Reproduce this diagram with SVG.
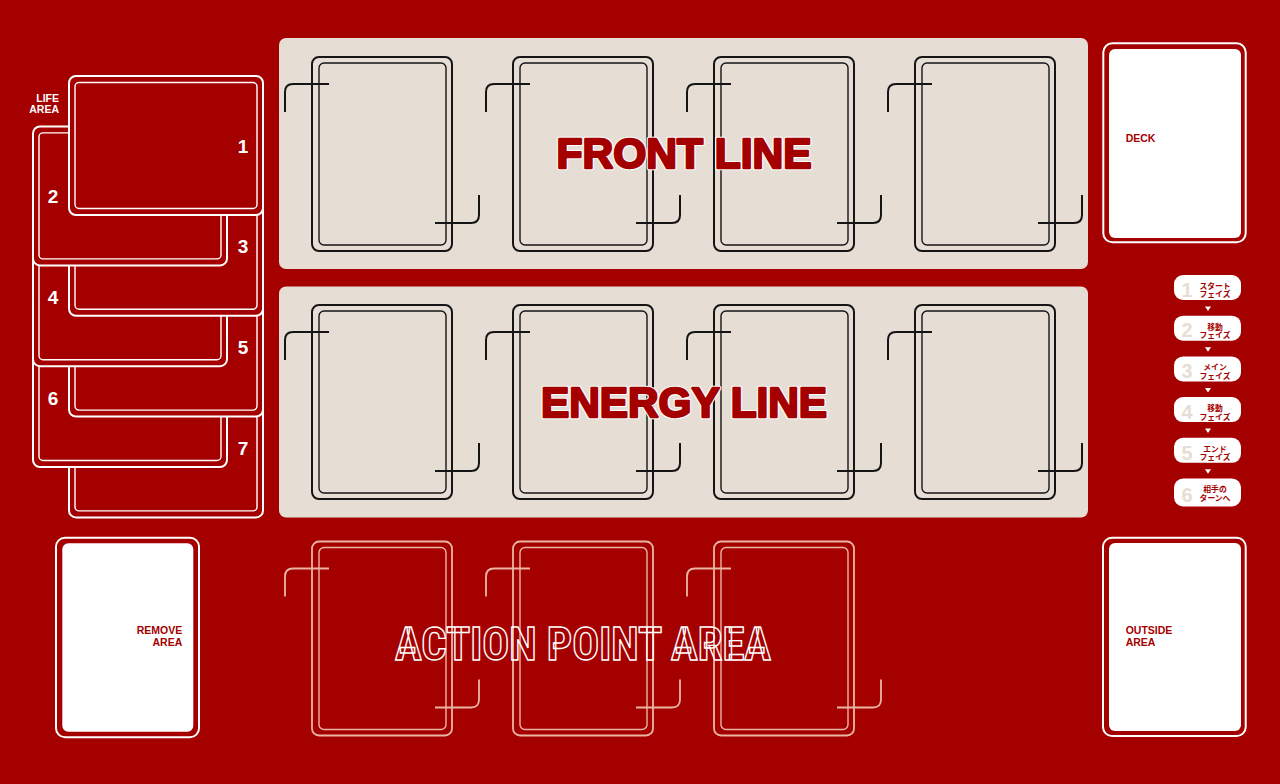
<svg xmlns="http://www.w3.org/2000/svg" xmlns:xlink="http://www.w3.org/1999/xlink" width="1280" height="784" viewBox="0 0 1280 784">
<style>
.bg{fill:#a50000}
.panel{fill:#e6ddd5}
.slot-dark{fill:none;stroke:#151515;stroke-width:2}
.slot-light{fill:none;stroke:#e9b6a4;stroke-width:1.8}
.lnum{font-family:"Liberation Sans",Arial,sans-serif;font-weight:bold;font-size:19px;fill:#fff;text-anchor:middle}
.lbl{font-family:"Liberation Sans",Arial,sans-serif;font-weight:bold;font-size:10.5px;fill:#a50000}
.wlbl{font-family:"Liberation Sans",Arial,sans-serif;font-weight:bold;font-size:10.5px;fill:#fff;text-anchor:end}
.zone-o{fill:none;stroke:#fff;stroke-width:2}
.zone-i{fill:#fff}
.big-out{font-family:"Liberation Sans",Arial,sans-serif;font-weight:bold;fill:#fff;stroke:#fff;stroke-width:4.6;stroke-linejoin:round;text-anchor:middle}
.big{font-family:"Liberation Sans",Arial,sans-serif;font-weight:bold;fill:#a50000;stroke:#a50000;stroke-width:2.4;stroke-linejoin:round;text-anchor:middle}
.pill{fill:#fff}
.pnum{font-family:"Liberation Sans",Arial,sans-serif;font-weight:bold;font-size:20px;fill:#e6ddd5;text-anchor:middle}
.pjp{font-family:"Noto Sans CJK JP",sans-serif;font-weight:bold;font-size:7.8px;fill:#a50000;text-anchor:middle}
.arr{fill:#fff}
</style>
<defs>
<g id="slot">
<rect x="0" y="0" width="140" height="194" rx="7"/>
<rect x="7" y="6" width="127" height="182" rx="5" stroke-width="1.4"/>
<path d="M-27,55 V35 Q-27,27 -19,27 H17"/>
<path d="M167,138 V158 Q167,166 159,166 H123"/>
</g>
<g id="lifecard" fill="#a50000" stroke="#fff">
<rect x="0" y="0" width="194" height="139" rx="7" stroke-width="2"/>
<rect x="6" y="6.5" width="182" height="126" rx="4" stroke-width="1.4"/>
</g>
</defs>
<rect class="bg" x="0" y="0" width="1280" height="784"/>

<g id="front-line">
<rect class="panel" x="279" y="38" width="809" height="231" rx="7"/>
<g class="slot-dark">
<use xlink:href="#slot" x="312" y="57"/>
<use xlink:href="#slot" x="513" y="57"/>
<use xlink:href="#slot" x="714" y="57"/>
<use xlink:href="#slot" x="915" y="57"/>
</g>
<text class="big-out" x="684" y="168.3" font-size="42" textLength="255" lengthAdjust="spacingAndGlyphs">FRONT LINE</text>
<text class="big" x="684" y="168.3" font-size="42" textLength="255" lengthAdjust="spacingAndGlyphs">FRONT LINE</text>
</g>

<g id="energy-line">
<rect class="panel" x="279" y="286.5" width="809" height="231" rx="7"/>
<g class="slot-dark">
<use xlink:href="#slot" x="312" y="305"/>
<use xlink:href="#slot" x="513" y="305"/>
<use xlink:href="#slot" x="714" y="305"/>
<use xlink:href="#slot" x="915" y="305"/>
</g>
<text class="big-out" x="684" y="416.7" font-size="42" textLength="286" lengthAdjust="spacingAndGlyphs">ENERGY LINE</text>
<text class="big" x="684" y="416.7" font-size="42" textLength="286" lengthAdjust="spacingAndGlyphs">ENERGY LINE</text>
</g>

<g id="action-point-area">
<g class="slot-light">
<use xlink:href="#slot" x="312" y="541.5"/>
<use xlink:href="#slot" x="513" y="541.5"/>
<use xlink:href="#slot" x="714" y="541.5"/>
</g>
<text x="583" y="660" font-family="'Liberation Sans Narrow','Roboto Condensed','Liberation Sans',sans-serif" font-weight="bold" font-size="46" fill="none" stroke="#fff" stroke-width="1.4" text-anchor="middle" textLength="376" lengthAdjust="spacingAndGlyphs">ACTION POINT AREA</text>
</g>

<g id="life-area">
<use xlink:href="#lifecard" x="69" y="378.4"/>
<text class="lnum" x="243" y="454.9">7</text>
<use xlink:href="#lifecard" x="33" y="328"/>
<text class="lnum" x="53" y="404.5">6</text>
<use xlink:href="#lifecard" x="69" y="277.6"/>
<text class="lnum" x="243" y="354.1">5</text>
<use xlink:href="#lifecard" x="33" y="227.2"/>
<text class="lnum" x="53" y="303.7">4</text>
<use xlink:href="#lifecard" x="69" y="176.8"/>
<text class="lnum" x="243" y="253.3">3</text>
<use xlink:href="#lifecard" x="33" y="126.4"/>
<text class="lnum" x="53" y="202.9">2</text>
<use xlink:href="#lifecard" x="69" y="76"/>
<text class="lnum" x="243" y="152.5">1</text>
<text class="wlbl" x="59" y="101.5">LIFE</text>
<text class="wlbl" x="59" y="113">AREA</text>
</g>

<g id="deck">
<rect class="zone-o" x="1103.3" y="43.3" width="142.4" height="199" rx="9"/>
<rect class="zone-i" x="1109" y="49" width="132" height="189" rx="6"/>
<text class="lbl" x="1125.7" y="142.3">DECK</text>
</g>

<g id="remove-area">
<rect class="zone-o" x="56" y="537.7" width="143" height="199.6" rx="9"/>
<rect class="zone-i" x="62.3" y="543.3" width="131" height="188.4" rx="6"/>
<text class="lbl" x="182.3" y="634.3" text-anchor="end">REMOVE</text>
<text class="lbl" x="182.3" y="646" text-anchor="end">AREA</text>
</g>

<g id="outside-area">
<rect class="zone-o" x="1103" y="537.7" width="142.7" height="198.3" rx="9"/>
<rect class="zone-i" x="1109" y="543" width="132" height="188" rx="6"/>
<text class="lbl" x="1125.7" y="634.3">OUTSIDE</text>
<text class="lbl" x="1125.7" y="646">AREA</text>
</g>

<g id="phase-1">
<rect class="pill" x="1174" y="275" width="67" height="25" rx="9"/>
<text class="pnum" x="1187" y="296.7">1</text>
<text class="pjp" x="1215" y="288.8">スタート</text>
<text class="pjp" x="1215" y="297.4">フェイズ</text>
</g>
<g id="phase-2">
<rect class="pill" x="1174" y="315.7" width="67" height="25" rx="9"/>
<text class="pnum" x="1187" y="337.4">2</text>
<text class="pjp" x="1215" y="329.5">移動</text>
<text class="pjp" x="1215" y="338.1">フェイズ</text>
</g>
<g id="phase-3">
<rect class="pill" x="1174" y="356.4" width="67" height="25" rx="9"/>
<text class="pnum" x="1187" y="378.1">3</text>
<text class="pjp" x="1215" y="370.2">メイン</text>
<text class="pjp" x="1215" y="378.8">フェイズ</text>
</g>
<g id="phase-4">
<rect class="pill" x="1174" y="397.1" width="67" height="25" rx="9"/>
<text class="pnum" x="1187" y="418.8">4</text>
<text class="pjp" x="1215" y="410.9">移動</text>
<text class="pjp" x="1215" y="419.5">フェイズ</text>
</g>
<g id="phase-5">
<rect class="pill" x="1174" y="437.8" width="67" height="25" rx="9"/>
<text class="pnum" x="1187" y="459.5">5</text>
<text class="pjp" x="1215" y="451.6">エンド</text>
<text class="pjp" x="1215" y="460.2">フェイズ</text>
</g>
<g id="phase-6">
<rect class="pill" x="1174" y="478.5" width="67" height="28" rx="9"/>
<text class="pnum" x="1187" y="501.5">6</text>
<text class="pjp" x="1215" y="492.1">相手の</text>
<text class="pjp" x="1215" y="501.2">ターンへ</text>
</g>

<g id="connectors" class="arr">
<polygon points="1205,306.5 1211,306.5 1208,311"/>
<polygon points="1205,347.2 1211,347.2 1208,351.7"/>
<polygon points="1205,387.9 1211,387.9 1208,392.4"/>
<polygon points="1205,428.6 1211,428.6 1208,433.1"/>
<polygon points="1205,469.3 1211,469.3 1208,473.8"/>
</g>
</svg>
